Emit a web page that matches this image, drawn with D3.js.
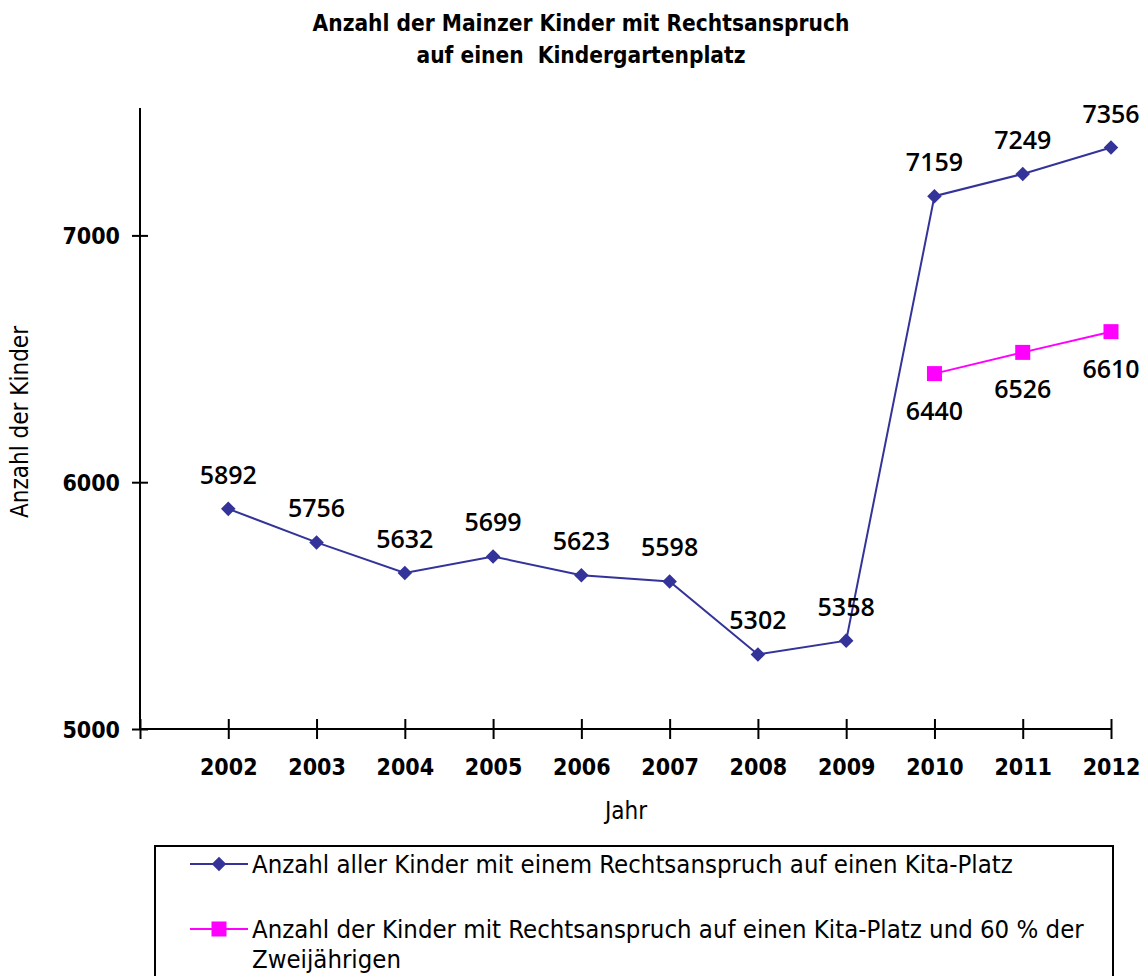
<!DOCTYPE html>
<html>
<head>
<meta charset="utf-8">
<script src="https://cdn.jsdelivr.net/npm/d3@7"></script>
<style>
  body { margin: 0; background: #fff; }
  text { font-family: "DejaVu Sans Condensed", "DejaVu Sans", sans-serif; fill: #000; }
  .num { font-family: "Open Sans", "DejaVu Sans", sans-serif; font-weight: 600; }
</style>
</head>
<body>
<svg id="chart" width="1146" height="976"></svg>
<script>
// data
var years = [2002, 2003, 2004, 2005, 2006, 2007, 2008, 2009, 2010, 2011, 2012]
var allKids = [5892, 5756, 5632, 5699, 5623, 5598, 5302, 5358, 7159, 7249, 7356]
var kidsYears = [2010, 2011, 2012]
var kidsWithTwo = [6440, 6526, 6610]
var yTicks = [5000, 6000, 7000]
var seriesNames = [
    "Anzahl aller Kinder mit einem Rechtsanspruch auf einen Kita-Platz",
    "Anzahl der Kinder mit Rechtsanspruch auf einen Kita-Platz und 60 % der",
    "Zweijährigen"
]

var blue = "#333399"
var pink = "#ff00ff"

var svg = d3.select("#chart")
var margin = {left: 140, top: 112, bottom: 729, right: 1111}

var xScale = d3.scaleLinear()
    .domain([2001, 2012])
    .range([margin.left, margin.right])

var yScale = d3.scaleLinear()
    .domain([5000, 7500])
    .range([margin.bottom, margin.top])

// title
var title = svg.append("g").attr("font-weight", "bold").attr("font-size", 22.5)
title.append("text").attr("x", 581).attr("y", 31).attr("text-anchor", "middle")
    .text("Anzahl der Mainzer Kinder mit Rechtsanspruch")
title.append("text").attr("x", 581).attr("y", 63).attr("text-anchor", "middle")
    .text("auf einen  Kindergartenplatz")
    .style("white-space", "pre")

// y axis
var yAxis = d3.axisLeft(yScale).tickValues(yTicks).tickFormat(d3.format("d")).tickSize(8).tickPadding(12)
var yg = svg.append("g")
    .attr("transform", "translate(" + margin.left + ",0)")
    .call(yAxis)
yg.select(".domain").attr("stroke", "#000").attr("stroke-width", 2).attr("d", "M0," + (margin.top - 4) + "V" + margin.bottom)
yg.selectAll(".tick line").attr("x1", 8).attr("x2", -8).attr("stroke", "#000").attr("stroke-width", 2)
yg.selectAll(".tick text")
    .attr("font-size", 23).attr("font-weight", "bold")
    .attr("font-family", "DejaVu Sans Condensed, sans-serif")
    .attr("dy", "0.36em")

// x axis
var xAxis = d3.axisBottom(xScale)
    .tickValues([2001].concat(years))
    .tickFormat(d => d == 2001 ? "" : d)
    .tickSize(10).tickPadding(20)
var xg = svg.append("g")
    .attr("transform", "translate(0," + margin.bottom + ")")
    .call(xAxis)
xg.select(".domain").attr("stroke", "#000").attr("stroke-width", 2).attr("d", "M" + margin.left + ",0H" + margin.right)
xg.selectAll(".tick line").attr("y1", -10).attr("y2", 10).attr("stroke", "#000").attr("stroke-width", 2)
xg.selectAll(".tick text")
    .attr("font-size", 23).attr("font-weight", "bold")
    .attr("font-family", "DejaVu Sans Condensed, sans-serif")

// axis titles
svg.append("text").attr("x", 626).attr("y", 819).attr("text-anchor", "middle")
    .attr("font-size", 24).text("Jahr")
svg.append("text")
    .attr("transform", "translate(28,422) rotate(-90)")
    .attr("text-anchor", "middle").attr("font-size", 24)
    .text("Anzahl der Kinder")

// lines
var line = d3.line()
    .x(d => xScale(d[0]))
    .y(d => yScale(d[1]))

var blueData = years.map((y, i) => [y, allKids[i]])
var pinkData = kidsYears.map((y, i) => [y, kidsWithTwo[i]])

svg.append("path").datum(blueData)
    .attr("fill", "none").attr("stroke", blue).attr("stroke-width", 2)
    .attr("d", line)
svg.append("path").datum(pinkData)
    .attr("fill", "none").attr("stroke", pink).attr("stroke-width", 2)
    .attr("d", line)

var diamond = d3.symbol().type(d3.symbolDiamond2).size(135)
var square = d3.symbol().type(d3.symbolSquare).size(225)

svg.selectAll(".dot-blue").data(blueData).enter()
    .append("path").attr("class", "dot-blue")
    .attr("transform", d => "translate(" + xScale(d[0]) + "," + yScale(d[1]) + ")")
    .attr("d", diamond).attr("fill", blue)

svg.selectAll(".dot-pink").data(pinkData).enter()
    .append("path").attr("class", "dot-pink")
    .attr("transform", d => "translate(" + xScale(d[0]) + "," + yScale(d[1]) + ")")
    .attr("d", square).attr("fill", pink)

// data labels
svg.selectAll(".lab-blue").data(blueData).enter()
    .append("text").attr("class", "num")
    .attr("x", d => xScale(d[0]))
    .attr("y", d => yScale(d[1]) - 25)
    .attr("text-anchor", "middle").attr("font-size", 25)
    .text(d => d[1])

svg.selectAll(".lab-pink").data(pinkData).enter()
    .append("text").attr("class", "num")
    .attr("x", d => xScale(d[0]))
    .attr("y", d => yScale(d[1]) + 46)
    .attr("text-anchor", "middle").attr("font-size", 25)
    .text(d => d[1])

// legend
var legend = svg.append("g")
legend.append("rect")
    .attr("x", 155).attr("y", 846).attr("width", 958).attr("height", 140)
    .attr("fill", "none").attr("stroke", "#000").attr("stroke-width", 2)

legend.append("line").attr("x1", 190).attr("x2", 248).attr("y1", 864).attr("y2", 864)
    .attr("stroke", blue).attr("stroke-width", 2)
legend.append("path").attr("transform", "translate(219,864)").attr("d", diamond).attr("fill", blue)
legend.append("text").attr("x", 252).attr("y", 873).attr("font-size", 25.5).text(seriesNames[0])

legend.append("line").attr("x1", 190).attr("x2", 248).attr("y1", 929).attr("y2", 929)
    .attr("stroke", pink).attr("stroke-width", 2)
legend.append("path").attr("transform", "translate(219,929)").attr("d", square).attr("fill", pink)
legend.append("text").attr("x", 252).attr("y", 938).attr("font-size", 25.5).text(seriesNames[1])
legend.append("text").attr("x", 252).attr("y", 968).attr("font-size", 25.5).text(seriesNames[2])
</script>
</body>
</html>
